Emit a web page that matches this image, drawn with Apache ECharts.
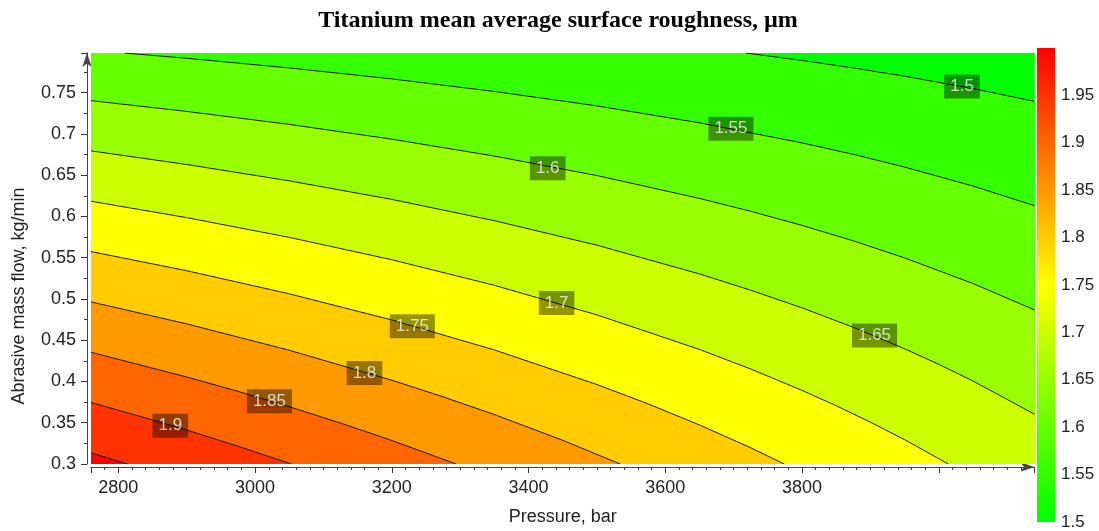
<!DOCTYPE html>
<html><head><meta charset="utf-8">
<script src="https://cdn.jsdelivr.net/npm/echarts@6/dist/echarts.min.js"></script>
<style>html,body{margin:0;padding:0;background:#fff}#c{width:1099px;height:531px}</style>
</head><body><div id="c"></div>
<script>
// ---- data ----
const levels = [1.5, 1.55, 1.6, 1.65, 1.7, 1.75, 1.8, 1.85, 1.9, 1.95];
// contour lines: [pressure (bar), abrasive mass flow (kg/min)]
const contour_1_50 = [[3718,0.798],[3800,0.7890],[3875,0.7799],[3950,0.7699],[4050,0.7549],[4140,0.7394]];
const contour_1_55 = [[2809,0.798],[2900,0.7916],[3050,0.7799],[3200,0.7666],[3350,0.7514],[3500,0.7339],[3650,0.7134],[3800,0.6891],[3875,0.6752],[3950,0.6598],[4050,0.6368],[4140,0.6130]];
const contour_1_60 = [[2760,0.7403],[2900,0.7272],[3050,0.7115],[3200,0.6936],[3350,0.6731],[3500,0.6495],[3650,0.6218],[3725,0.6062],[3800,0.5891],[3875,0.5704],[3950,0.5497],[4050,0.5187],[4140,0.4867]];
const contour_1_65 = [[2760,0.6794],[2900,0.6629],[3050,0.6431],[3200,0.6206],[3350,0.5948],[3500,0.5651],[3650,0.5303],[3725,0.5106],[3800,0.4892],[3875,0.4656],[3950,0.4396],[4000,0.4208],[4050,0.4006],[4140,0.3603]];
const contour_1_70 = [[2760,0.6184],[2900,0.5985],[3050,0.5746],[3200,0.5475],[3350,0.5165],[3500,0.4807],[3650,0.4388],[3725,0.4151],[3800,0.3892],[3850,0.3706],[3900,0.3507],[3950,0.3295],[4014,0.3]];
const contour_1_75 = [[2760,0.5574],[2900,0.5342],[3050,0.5062],[3200,0.4745],[3350,0.4382],[3500,0.3963],[3575,0.3728],[3650,0.3473],[3725,0.3196],[3774,0.3]];
const contour_1_80 = [[2760,0.4964],[2900,0.4698],[3050,0.4378],[3200,0.4015],[3275,0.3814],[3350,0.3599],[3450,0.3287],[3534,0.3]];
const contour_1_85 = [[2760,0.4354],[2900,0.4054],[2975,0.3880],[3050,0.3694],[3125,0.3496],[3200,0.3285],[3294,0.3]];
const contour_1_90 = [[2760,0.3745],[2850,0.3534],[2900,0.3411],[2975,0.3216],[3053,0.3]];
const contour_1_95 = [[2760,0.3135],[2785,0.3072],[2813,0.3]];
const contourLabels = [[4034,0.7575,'1.5'],[3696,0.7062,'1.55'],[3428,0.6585,'1.6'],[3906,0.4557,'1.65'],[3441,0.4951,'1.7'],[3230,0.4668,'1.75'],[3160,0.4104,'1.8'],[3021,0.3761,'1.85'],[2876,0.3463,'1.9']];
const xTickLabels = ['2800','3000','3200','3400','3600','3800'];
const yTickLabels = ['0.3','0.35','0.4','0.45','0.5','0.55','0.6','0.65','0.7','0.75'];
const colorbarTickLabels = ['1.5','1.55','1.6','1.65','1.7','1.75','1.8','1.85','1.9','1.95'];
const XMIN = 2760, XMAX = 4140, YMIN = 0.3, YMAX = 0.798;
const CMIN = 1.5, CMID = 1.75, CMAX = 2.0;

const contours = [contour_1_50, contour_1_55, contour_1_60, contour_1_65, contour_1_70,
                  contour_1_75, contour_1_80, contour_1_85, contour_1_90, contour_1_95];

// colour map: green -> yellow -> red
function colorAt(v) {
  let r, g;
  if (v <= CMID) { const t = Math.max(0, (v - CMIN) / (CMID - CMIN)); r = 255 * t; g = 255; }
  else { const t = Math.min(1, (v - CMID) / (CMAX - CMID)); r = 255; g = 255 * (1 - t); }
  return 'rgb(' + Math.round(r) + ',' + Math.round(g) + ',0)';
}
function bandPolygon(pts) {
  const poly = pts.slice();
  const first = pts[0], last = pts[pts.length - 1];
  if (last[0] >= XMAX - 1e-6) poly.push([XMAX, YMIN]);
  poly.push([XMIN, YMIN]);
  if (first[1] >= YMAX - 1e-6) poly.push([XMIN, YMAX]);
  return poly;
}
const basePoly = [[XMIN, YMIN], [XMAX, YMIN], [XMAX, YMAX], [XMIN, YMAX]];
const FONT = "'Liberation Sans', Arial, sans-serif";
const TXT = '#222';

function matchLabel(list, v) {
  for (const s of list) if (Math.abs(Number(s) - v) < 1e-6) return s;
  return '';
}

const chart = echarts.init(document.getElementById('c'), null, {renderer: 'canvas'});
const series = [];
// filled bands (painter order: lowest first)
series.push({
  type: 'custom', xAxisIndex: 0, yAxisIndex: 0, silent: true, clip: true, z: 1,
  data: [[XMIN, YMIN, -1]].concat(levels.map((L, i) => [XMIN, YMIN, i])),
  renderItem: function (params, api) {
    const i = api.value(2);
    const poly = i < 0 ? basePoly : bandPolygon(contours[i]);
    const fill = i < 0 ? colorAt(levels[0]) : colorAt(levels[i] + 0.05);
    return {type: 'polygon', shape: {points: poly.map(p => api.coord(p))},
            style: {fill: fill, stroke: fill, lineWidth: 0.5}};
  }
});
// contour lines
contours.forEach((c, i) => {
  series.push({
    type: 'line', xAxisIndex: 0, yAxisIndex: 0, data: c, symbol: 'none', silent: true, z: 3,
    lineStyle: {color: '#1a1a1a', width: 1}, smooth: false
  });
});
// contour labels
series.push({
  type: 'scatter', xAxisIndex: 0, yAxisIndex: 0, silent: true, z: 5, symbolSize: 0,
  data: contourLabels,
  label: {
    show: true, position: 'inside', formatter: p => p.data[2],
    color: '#f4f4f4', fontSize: 17, fontFamily: FONT,
    backgroundColor: 'rgba(0,0,0,0.52)', padding: [4, 6, 3, 6]
  }
});
// colour bar
series.push({
  type: 'custom', xAxisIndex: 2, yAxisIndex: 2, silent: true, z: 1,
  data: [[0, CMIN, 1, CMAX]],
  renderItem: function (params, api) {
    const p0 = api.coord([api.value(0), api.value(1)]);
    const p1 = api.coord([api.value(2), api.value(3)]);
    return {type: 'rect',
      shape: {x: p0[0], y: p1[1], width: p1[0] - p0[0], height: p0[1] - p1[1]},
      style: {fill: {type: 'linear', x: 0, y: 1, x2: 0, y2: 0, colorStops: [
        {offset: 0, color: colorAt(CMIN)}, {offset: 0.5, color: colorAt(CMID)}, {offset: 1, color: colorAt(CMAX)}]}}};
  }
});

const option = {
  animation: false,
  backgroundColor: '#fff',
  title: {
    text: 'Titanium mean average surface roughness, µm',
    left: 553, top: 4, textAlign: 'center',
    textStyle: {fontFamily: "'Liberation Serif', 'Times New Roman', serif", fontWeight: 'bold', fontSize: 24, color: '#000'}
  },
  grid: [
    {left: 91, top: 53, width: 943.5, height: 417.5, containLabel: false},
    {left: 1037, top: 48, width: 18, height: 474, containLabel: false}
  ],
  xAxis: [
    {gridIndex: 0, type: 'value', position: 'bottom', min: XMIN, max: XMAX, splitNumber: 7, minInterval: 200, maxInterval: 200, offset: 3,
     axisLine: {show: true, onZero: false, lineStyle: {color: '#444', width: 1}, symbol: ['none', 'arrow'], symbolSize: [7, 14]},
     axisTick: {show: true, length: 6, lineStyle: {color: '#333'}},
     axisLabel: {formatter: v => matchLabel(xTickLabels, v), fontSize: 18, color: TXT, margin: 12, fontFamily: FONT},
     splitLine: {show: false},
     name: 'Pressure, bar', nameLocation: 'middle', nameGap: 41,
     nameTextStyle: {fontSize: 18, color: TXT, fontFamily: FONT}},
    {gridIndex: 0, type: 'value', position: 'bottom', min: XMIN, max: XMAX, interval: 20, offset: 3,
     axisLine: {show: false}, axisTick: {show: true, length: 3, lineStyle: {color: '#333'}},
     axisLabel: {show: false}, splitLine: {show: false}},
    {gridIndex: 1, type: 'value', min: 0, max: 1, show: false}
  ],
  yAxis: [
    {gridIndex: 0, type: 'value', position: 'left', min: YMIN, max: YMAX, interval: 0.05, offset: 4,
     axisLine: {show: true, onZero: false, lineStyle: {color: '#444', width: 1}, symbol: ['none', 'arrow'], symbolSize: [7, 14]},
     axisTick: {show: true, length: 6, lineStyle: {color: '#333'}},
     minorTick: {show: true, splitNumber: 2, length: 3, lineStyle: {color: '#333'}},
     axisLabel: {formatter: v => matchLabel(yTickLabels, v), fontSize: 18, color: TXT, margin: 11, fontFamily: FONT},
     splitLine: {show: false}},
    {gridIndex: 0, type: 'value', show: false, min: YMIN, max: YMAX},
    {gridIndex: 1, type: 'value', position: 'right', min: CMIN, max: CMAX, interval: 0.05,
     axisLine: {show: false}, axisTick: {show: false}, splitLine: {show: false},
     axisLabel: {formatter: v => matchLabel(colorbarTickLabels, v), fontSize: 17, color: TXT, margin: 6, fontFamily: FONT}}
  ],
  graphic: [{
    type: 'text', x: 19, y: 296, rotation: Math.PI / 2,
    style: {text: 'Abrasive mass flow, kg/min', fontSize: 18, fill: TXT, fontFamily: FONT, align: 'center', verticalAlign: 'middle'}
  }],
  series: series
};
chart.setOption(option);
</script>
</body></html>
